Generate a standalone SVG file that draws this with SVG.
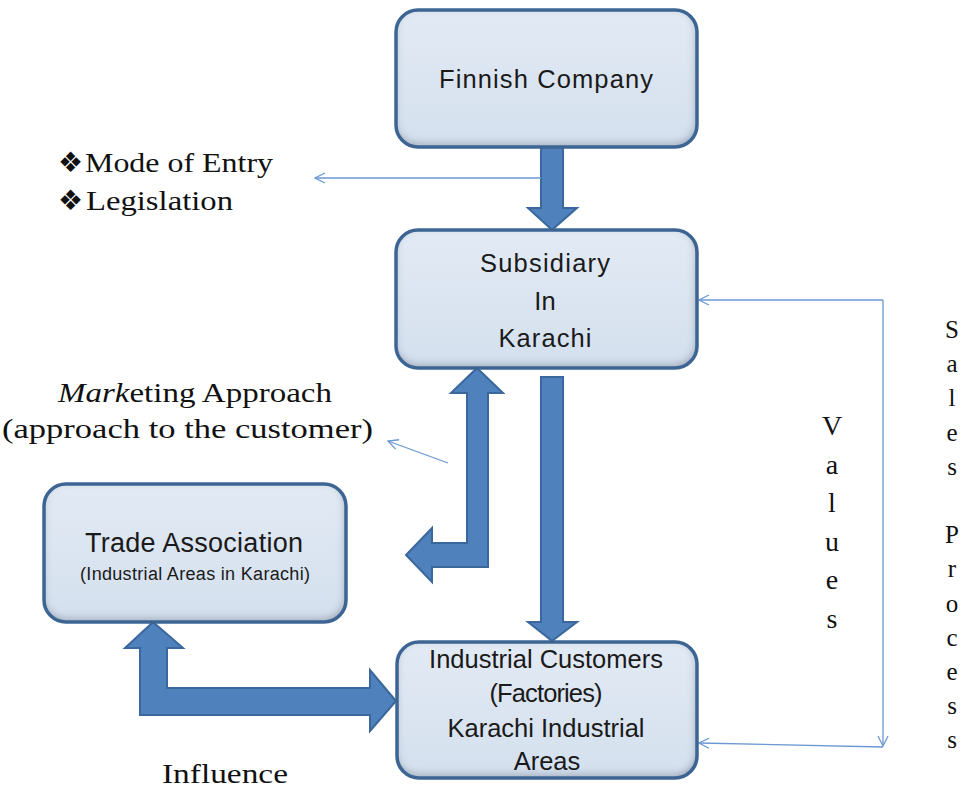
<svg xmlns="http://www.w3.org/2000/svg" width="966" height="790" viewBox="0 0 966 790">
  <style>
    .boxfill { fill: url(#boxgrad); filter: url(#inset); }
    .boxline { fill: none; stroke: #3d6594; stroke-width: 3.5; }
    .btxt { font-family: "Liberation Sans", Arial, sans-serif; font-size: 25.5px; fill: #1a1a1a; text-anchor: middle; }
    .stxt { font-family: "Liberation Serif", "Times New Roman", serif; font-size: 27px; fill: #111; }
    .vtxt { font-family: "Liberation Serif", "Times New Roman", serif; fill: #111; text-anchor: middle; }
    .fat { fill: #4f81bd; stroke: #3a679c; stroke-width: 2; stroke-linejoin: miter; }
    .thin { fill: none; stroke: #6a98d2; stroke-width: 1.3; }
    .bullet { font-family: "DejaVu Sans", sans-serif; font-size: 28px; fill: #111; }
  </style>
  <defs>
    <linearGradient id="boxgrad" x1="0" y1="0" x2="0" y2="1">
      <stop offset="0" stop-color="#e2eaf4"/>
      <stop offset="1" stop-color="#d4e0ee"/>
    </linearGradient>
    <filter id="inset" x="-5%" y="-5%" width="110%" height="110%">
      <feFlood flood-color="#1f3a5f" flood-opacity="0.6"/>
      <feComposite in2="SourceAlpha" operator="out"/>
      <feOffset dx="-1" dy="-3"/>
      <feGaussianBlur stdDeviation="4"/>
      <feComposite in2="SourceAlpha" operator="in" result="sh"/>
      <feMerge><feMergeNode in="SourceGraphic"/><feMergeNode in="sh"/></feMerge>
    </filter>
    <marker id="open" viewBox="0 0 12 12" refX="11" refY="6" markerWidth="12" markerHeight="12" orient="auto" markerUnits="userSpaceOnUse">
      <path d="M1,1 L11,6 L1,11" fill="none" stroke="#6a98d2" stroke-width="1.3"/>
    </marker>
  </defs>

  <rect width="966" height="790" fill="#ffffff"/>

  <g id="connectors">
    <polygon class="fat" points="541,147 563,147 563,208 577,208 552,230 528,208 541,208"/>
    <polygon class="fat" points="541,377 563,377 563,622 577,622 552,641 528,622 541,622"/>
    <polygon class="fat" points="477,368 503,393 488,393 488,567 432,567 432,582 406,555 432,528 432,543 467,543 467,393 451,393"/>
    <polygon class="fat" points="153,622 183,648 167,648 167,688 370,688 370,670 396,701 370,731 370,715 140,715 140,648 125,648"/>
    <line class="thin" x1="541" y1="178" x2="315" y2="178" marker-end="url(#open)"/>
    <line class="thin" x1="448" y1="463" x2="388" y2="441" marker-end="url(#open)"/>
    <line class="thin" x1="883" y1="300" x2="699" y2="300" marker-end="url(#open)"/>
    <line class="thin" x1="883" y1="300" x2="883" y2="746" marker-end="url(#open)"/>
    <line class="thin" x1="883" y1="747" x2="699" y2="743" marker-end="url(#open)"/>
  </g>

  <g id="finnish">
    <rect class="boxfill" x="396" y="10" width="301" height="137" rx="22"/>
    <rect class="boxline" x="396" y="10" width="301" height="137" rx="22"/>
    <text class="btxt" x="546" y="88" textLength="214">Finnish Company</text>
  </g>

  <g id="subsidiary">
    <rect class="boxfill" x="396" y="230" width="301" height="138" rx="22"/>
    <rect class="boxline" x="396" y="230" width="301" height="138" rx="22"/>
    <text class="btxt" x="545" y="272" textLength="130">Subsidiary</text>
    <text class="btxt" x="545" y="310">In</text>
    <text class="btxt" x="545" y="347" textLength="93">Karachi</text>
  </g>

  <g id="industrial">
    <rect class="boxfill" x="397" y="642" width="300" height="136" rx="22"/>
    <rect class="boxline" x="397" y="642" width="300" height="136" rx="22"/>
    <text class="btxt" x="546" y="668">Industrial Customers</text>
    <text class="btxt" x="546" y="702" textLength="113">(Factories)</text>
    <text class="btxt" x="546" y="737">Karachi Industrial</text>
    <text class="btxt" x="547" y="770">Areas</text>
  </g>

  <g id="trade">
    <rect class="boxfill" x="44" y="484" width="302" height="138" rx="22"/>
    <rect class="boxline" x="44" y="484" width="302" height="138" rx="22"/>
    <text class="btxt" x="194" y="552" style="font-size:27px" textLength="218">Trade Association</text>
    <text class="btxt" x="195" y="580" style="font-size:18px" textLength="230">(Industrial Areas in Karachi)</text>
  </g>

  <g id="mode-legislation">
    <text class="bullet" x="58" y="172">❖</text>
    <text class="stxt" x="85" y="172" textLength="188" lengthAdjust="spacingAndGlyphs">Mode of Entry</text>
    <text class="bullet" x="58" y="210">❖</text>
    <text class="stxt" x="86" y="210" textLength="147" lengthAdjust="spacingAndGlyphs">Legislation</text>
  </g>

  <g id="marketing">
    <text class="stxt" x="58" y="402" textLength="274" lengthAdjust="spacingAndGlyphs"><tspan font-style="italic">Mark</tspan>eting Approach</text>
    <text class="stxt" x="2" y="438" textLength="371" lengthAdjust="spacingAndGlyphs">(approach to the customer)</text>
  </g>

  <g id="influence">
    <text class="stxt" x="162" y="783" textLength="126" lengthAdjust="spacingAndGlyphs">Influence</text>
  </g>

  <g id="values" class="vtxt" style="font-size:28px">
    <text x="832" y="435">V</text>
    <text x="832" y="474">a</text>
    <text x="832" y="512">l</text>
    <text x="832" y="551">u</text>
    <text x="832" y="589">e</text>
    <text x="832" y="628">s</text>
  </g>

  <g id="sales-process" class="vtxt" style="font-size:25px">
    <text x="952" y="338">S</text>
    <text x="952" y="372">a</text>
    <text x="952" y="406">l</text>
    <text x="952" y="441">e</text>
    <text x="952" y="475">s</text>
    <text x="952" y="543">P</text>
    <text x="952" y="577">r</text>
    <text x="952" y="612">o</text>
    <text x="952" y="646">c</text>
    <text x="952" y="680">e</text>
    <text x="952" y="714">s</text>
    <text x="952" y="748">s</text>
  </g>
</svg>
